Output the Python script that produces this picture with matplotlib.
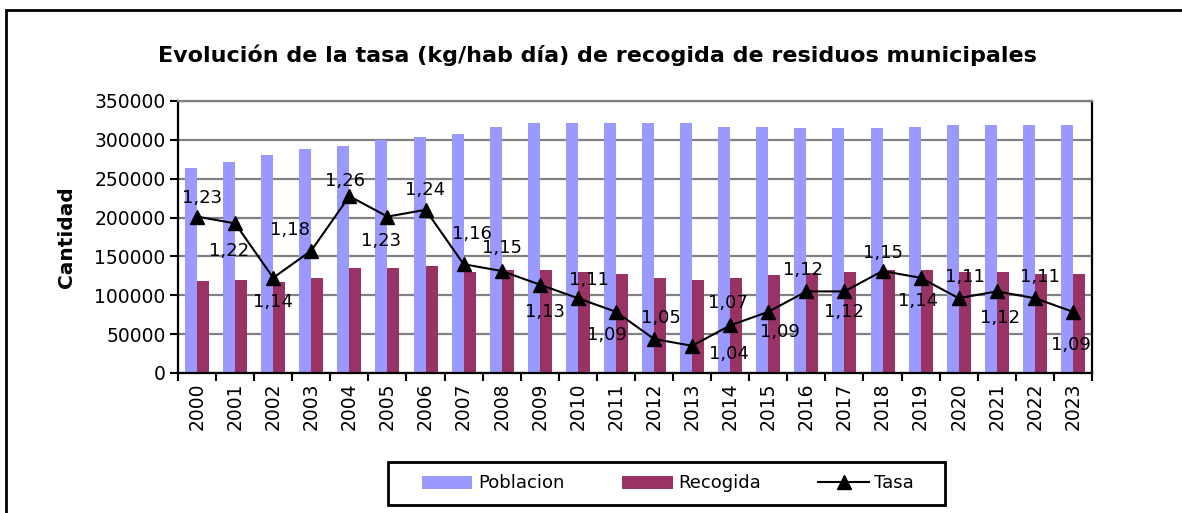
import matplotlib
matplotlib.use("Agg")
import matplotlib.pyplot as plt
import numpy as np
from matplotlib.patches import Rectangle, Patch
from matplotlib.lines import Line2D

years = [str(y) for y in range(2000, 2024)]
poblacion = [264000, 272000, 280000, 288000, 292000, 300000, 304000, 307000,
             317000, 322000, 322000, 322000, 322000, 322000, 317000, 317000,
             315000, 315000, 315000, 317000, 319000, 319000, 319000, 319000]
recogida = [118000, 119500, 117500, 122500, 135000, 135000, 137500, 130000,
            133000, 133000, 130000, 127000, 122500, 119500, 122500, 125500,
            129000, 130000, 133000, 133000, 130000, 130000, 127000, 127000]
tasa = [1.23, 1.22, 1.14, 1.18, 1.26, 1.23, 1.24, 1.16, 1.15, 1.13, 1.11, 1.09,
        1.05, 1.04, 1.07, 1.09, 1.12, 1.12, 1.15, 1.14, 1.11, 1.12, 1.11, 1.09]
yticks = [0, 50000, 100000, 150000, 200000, 250000, 300000, 350000]

# label offsets in pixels (dx, dy) - styling only
label_off = [(5, 19), (-6, -28), (0, -24), (-21, 21), (-4, 15), (-6, -24),
             (0, 20), (8, 30), (0, 23), (5, -27), (11, 18), (-9, -23),
             (7, 21), (37, -8), (-2, 22), (12, -20), (-3, 21), (0, -21),
             (0, 18), (-3, -23), (6, 21), (3, -27), (5, 21), (-2, -33)]

W, H = 1182, 513
fig = plt.figure(figsize=(W / 100, H / 100), dpi=100)
fig.patch.set_facecolor("white")

L, R, T, B = 178, 1092, 101, 373
ax = fig.add_axes([L / W, (H - B) / H, (R - L) / W, (B - T) / H])
x = np.arange(len(years))
bw = 0.316
ax.bar(x - bw / 2, poblacion, width=bw, color="#9999FF", zorder=2)
ax.bar(x + bw / 2, recogida, width=bw, color="#993366", zorder=2)
ax.set_xlim(-0.5, len(years) - 0.5)
ax.set_ylim(0, 350000)
ax.set_yticks(yticks)
ax.set_yticklabels([str(v) for v in yticks], fontsize=13.5, family="DejaVu Sans")
ax.set_xticks(x)
ax.set_xticklabels(years, rotation=90, fontsize=13.5, family="DejaVu Sans")
ax.tick_params(axis="x", which="major", length=0, pad=7)
ax.set_xticks(np.arange(-0.5, len(years)), minor=True)
ax.tick_params(axis="x", which="minor", length=6, width=1.5, direction="out")
ax.tick_params(axis="y", length=6, width=1.5, direction="out", pad=3)
ax.yaxis.grid(True, color="#808080", linewidth=1.6, zorder=0)
ax.set_axisbelow(True)
for s in ["left", "bottom", "right"]:
    ax.spines[s].set_color("black")
    ax.spines[s].set_linewidth(1.6)
ax.spines["top"].set_color("#808080")
ax.spines["top"].set_linewidth(1.6)
ax.set_ylabel("Cantidad", fontsize=14.5, fontweight="bold", labelpad=13)

ax2 = ax.twinx()
ax2.set_ylim(1.0, 1.4)
ax2.plot(x, tasa, color="black", linewidth=1.5, marker="^", markersize=10, zorder=5)
ax2.set_yticks([])
for s in ax2.spines.values():
    s.set_visible(False)
for xi, t, (dx, dy) in zip(x, tasa, label_off):
    ax2.annotate(f"{t:.2f}".replace(".", ","), (xi, t), xytext=(dx, dy),
                 textcoords="offset pixels", ha="center", va="center",
                 fontsize=13, color="black", zorder=6)

fig.text(597 / W, 1 - 55 / H,
         "Evolución de la tasa (kg/hab día) de recogida de residuos municipales",
         ha="center", va="center", fontsize=16, fontweight="bold")

handles = [Patch(facecolor="#9999FF", edgecolor="none"),
           Patch(facecolor="#993366", edgecolor="none"),
           Line2D([], [], color="black", marker="^", markersize=10, linewidth=1.5)]
leg = fig.legend(handles, ["Poblacion", "Recogida", "Tasa"], ncol=3,
                 loc="center", bbox_to_anchor=(668 / W, 1 - 483.5 / H),
                 fontsize=13, frameon=False,
                 handlelength=2.8, handleheight=0.7, handletextpad=0.3,
                 columnspacing=3.2)

fig.patches.append(Rectangle((388 / W, 1 - 505 / H), (945 - 388) / W, 43 / H,
                             transform=fig.transFigure, fill=False,
                             edgecolor="black", linewidth=2))
fig.patches.append(Rectangle((6 / W, -0.1), 1.2, (H - 10) / H + 0.1,
                             transform=fig.transFigure, fill=False,
                             edgecolor="black", linewidth=2))

fig.savefig("out.png", dpi=100)
